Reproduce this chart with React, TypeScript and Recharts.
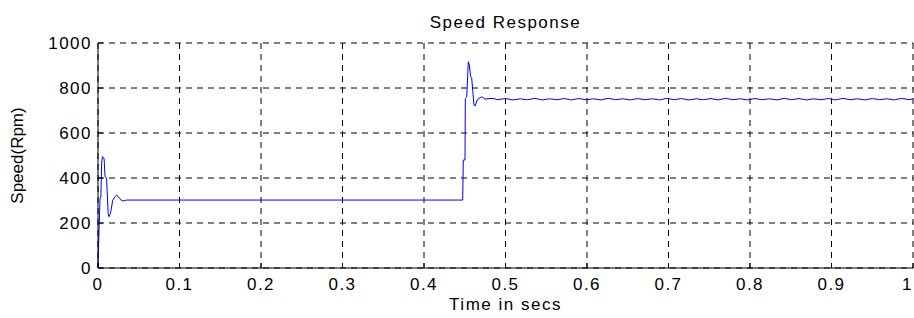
import {
  LineChart,
  Line,
  XAxis,
  YAxis,
  CartesianGrid,
} from "recharts";

// start-up transient (secs, rpm)
const startTime = [0, 0.0004, 0.0025, 0.0035, 0.0045, 0.0055, 0.0075, 0.0086, 0.0105, 0.0125, 0.0135, 0.0155, 0.018, 0.021, 0.023, 0.026, 0.029, 0.031, 0.035];
const startSpeed = [0, 67, 311, 315, 470, 495, 485, 406, 400, 240, 228, 245, 300, 318, 324, 312, 300, 298, 302];

// flat section at 300 rpm
const holdTime = [0.1, 0.2, 0.3, 0.4, 0.4475];
const holdSpeed = [302, 302, 302, 302, 302];

// step to 750 rpm
const stepTime = [0.4482, 0.4503, 0.4507, 0.4524, 0.4544, 0.4556, 0.4573, 0.4585, 0.4613, 0.4629, 0.4654, 0.4708, 0.4748, 0.4847];
const stepSpeed = [480, 480, 754, 760, 917, 902, 850, 845, 724, 721, 748, 761, 751, 754];

// steady state ripple
const steadyTime = [0.49, 0.5, 0.509, 0.518, 0.527, 0.536, 0.545, 0.554, 0.563, 0.572, 0.581, 0.59, 0.599, 0.608, 0.617, 0.626, 0.635, 0.644, 0.653, 0.662, 0.671, 0.68, 0.689, 0.698, 0.707, 0.716, 0.725, 0.734, 0.743, 0.752, 0.761, 0.77, 0.779, 0.788, 0.797, 0.806, 0.815, 0.824, 0.833, 0.842, 0.851, 0.86, 0.869, 0.878, 0.887, 0.896, 0.905, 0.914, 0.923, 0.932, 0.941, 0.95, 0.959, 0.968, 0.977, 0.986, 0.995, 1];
const steadySpeed = [748, 753, 747, 752, 748, 754, 747, 752, 748, 753, 747, 753, 748, 752, 747, 754, 748, 752, 747, 753, 748, 752, 747, 754, 748, 753, 747, 752, 748, 753, 747, 754, 748, 752, 747, 753, 748, 752, 747, 754, 748, 753, 747, 752, 748, 753, 747, 754, 748, 752, 747, 753, 748, 752, 747, 754, 748, 752];

const xTicks = [0, 0.1, 0.2, 0.3, 0.4, 0.5, 0.6, 0.7, 0.8, 0.9, 1];
const xTickLabels = ["0", "0.1", "0.2", "0.3", "0.4", "0.5", "0.6", "0.7", "0.8", "0.9", "1"];
const yTicks = [0, 200, 400, 600, 800, 1000];

const allTime = [...startTime, ...holdTime, ...stepTime, ...steadyTime];
const allSpeed = [...startSpeed, ...holdSpeed, ...stepSpeed, ...steadySpeed];
const data = allTime.map((t, i) => ({ t, speed: allSpeed[i] }));

const font = '"Liberation Sans", Arial, sans-serif';
const tickStyle = { fill: "#000", fontSize: 17, fontFamily: font, letterSpacing: 1.5 };

// last label sits on the right edge, so anchor it at its end
const XTick = (props: any) => {
  const { x, y, index } = props;
  const last = index === xTickLabels.length - 1;
  return (
    <text
      x={x}
      y={y}
      dy="0.71em"
      textAnchor={last ? "end" : "middle"}
      style={tickStyle}
    >
      {xTickLabels[index]}
    </text>
  );
};

const App = () => {
  return (
    <div style={{ position: "absolute", left: 0, top: 0, width: 914, height: 318, fontFamily: font }}>
      <div
        style={{
          position: "absolute",
          left: 98,
          width: 815,
          top: 13,
          textAlign: "center",
          fontSize: 17,
          letterSpacing: 1.5,
          lineHeight: "20px",
          color: "#000",
        }}
      >
        Speed Response
      </div>
      <LineChart
        width={914}
        height={318}
        data={data}
        margin={{ top: 43, right: 1, left: 0, bottom: 20 }}
      >
        <CartesianGrid stroke="#000" strokeDasharray="6 5" />
        <XAxis
          dataKey="t"
          type="number"
          domain={[0, 1]}
          ticks={xTicks}
          interval={0}
          height={30}
          stroke="#000"
          tick={<XTick />}
          tickSize={-5}
          tickMargin={15}
          label={{
            value: "Time in secs",
            position: "bottom",
            offset: 0,
            style: { fill: "#000", fontSize: 17, fontFamily: font, letterSpacing: 1.5 },
          }}
        />
        <XAxis
          xAxisId="top"
          orientation="top"
          type="number"
          domain={[0, 1]}
          ticks={xTicks}
          interval={0}
          height={0}
          stroke="#000"
          tick={false}
          tickSize={-5}
        />
        <YAxis
          type="number"
          domain={[0, 1000]}
          ticks={yTicks}
          interval={0}
          width={98}
          stroke="#000"
          tick={tickStyle}
          tickSize={-5}
          tickMargin={11}
          label={{
            value: "Speed(Rpm)",
            angle: -90,
            position: "insideLeft",
            offset: 17,
            style: { textAnchor: "middle", fill: "#000", fontSize: 17, fontFamily: font },
          }}
        />
        <YAxis
          yAxisId="right"
          orientation="right"
          type="number"
          domain={[0, 1000]}
          ticks={yTicks}
          interval={0}
          width={0}
          stroke="#000"
          tick={false}
          tickSize={-5}
        />
        <Line
          type="linear"
          dataKey="speed"
          stroke="#0000ff"
          strokeWidth={1}
          dot={false}
          isAnimationActive={false}
        />
      </LineChart>
    </div>
  );
};

export default App;
